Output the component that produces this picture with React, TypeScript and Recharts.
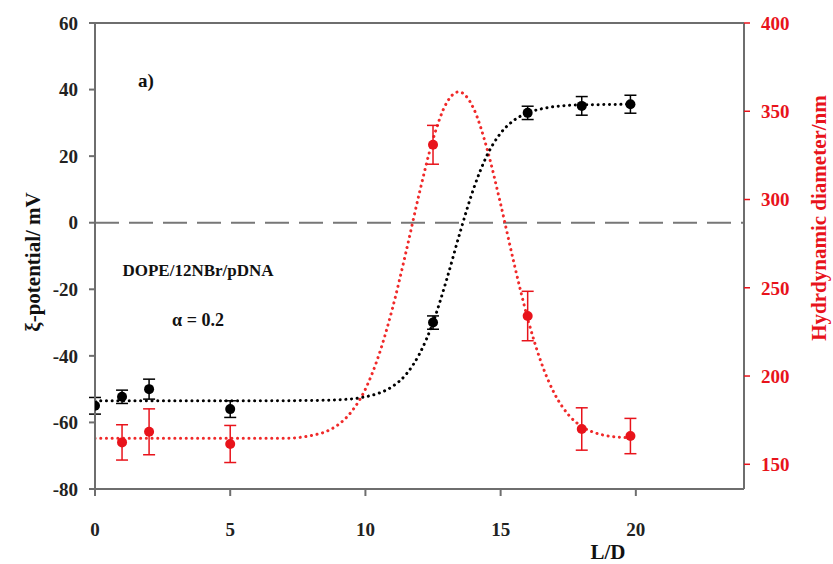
import React from 'react';
import { ComposedChart, XAxis, YAxis, Line, Scatter, ErrorBar, ReferenceLine } from 'recharts';

const FONT = '"Liberation Serif", "Times New Roman", serif';
const RED = '#e8131b';
const AXIS = '#6e6e6e';

// categories / x values (L/D)
const zetaX = [0, 1, 2, 5, 12.5, 16, 18, 19.8];
const zetaVals = [-55, -52.3, -50, -56, -30, 33, 35.1, 35.6];
const zetaErr = [2.5, 2, 3, 2.5, 2, 2, 2.8, 2.7];

const diamX = [1, 2, 5, 12.5, 16, 18, 19.8];
const diamVals = [162.4, 168.4, 161.5, 331, 234, 170, 166];
const diamErr = [10, 13, 10.5, 11, 14, 12, 10];

// fitted curves
const zetaFitX = [0, 2, 4, 6, 8, 9, 10, 10.5, 11, 11.5, 12, 12.5, 13, 13.5, 14, 14.5, 15, 15.5, 16, 16.5, 17, 18, 19, 19.8];
const zetaFitY = [-53.5, -53.5, -53.5, -53.5, -53.4, -53.2, -52.3, -51.2, -49.2, -45.6, -39.4, -30.0, -17.2, -2.9, 10.2, 20.3, 26.9, 30.8, 33.0, 34.2, 34.9, 35.4, 35.5, 35.6];

const diamFitX = [0, 2, 4, 6, 7, 8, 8.5, 9, 9.5, 10, 10.5, 11, 11.5, 12, 12.5, 13, 13.45, 14, 14.5, 15, 15.5, 16, 16.5, 17, 17.5, 18, 18.5, 19, 19.8];
const diamFitY = [164.7, 164.7, 164.7, 164.7, 164.7, 166.3, 168.3, 172.5, 180.1, 192.6, 212.0, 238.3, 270.2, 304.0, 334.1, 354.7, 361, 351.6, 328.6, 297.4, 263.6, 232.6, 207.7, 189.8, 178.2, 171.4, 167.8, 166.0, 165.0];

const xTicks = [0, 5, 10, 15, 20];
const leftTicks = [-80, -60, -40, -20, 0, 20, 40, 60];
const rightTicks = [150, 200, 250, 300, 350, 400];

const zetaPoints = zetaX.map((x, i) => ({ x, y: zetaVals[i], err: zetaErr[i] }));
const diamPoints = diamX.map((x, i) => ({ x, y: diamVals[i], err: diamErr[i] }));
const zetaFit = zetaFitX.map((x, i) => ({ x, y: zetaFitY[i] }));
const diamFit = diamFitX.map((x, i) => ({ x, y: diamFitY[i] }));

const tickStyle = { fontFamily: FONT, fontWeight: 700, fontSize: 19 };

const BlackDot = (p: any) => <circle cx={p.cx} cy={p.cy} r={5} fill="#000" />;
const RedDot = (p: any) => <circle cx={p.cx} cy={p.cy} r={5} fill={RED} />;

export default function App() {
  return (
    <div style={{ position: 'absolute', left: 0, top: 0, width: 833, height: 564, background: '#fff' }}>
      <ComposedChart width={833} height={564} margin={{ top: 23, right: 29, bottom: 30, left: 35 }}>
        <XAxis
          type="number"
          dataKey="x"
          domain={[0, 24]}
          ticks={xTicks}
          allowDataOverflow
          height={45}
          stroke={AXIS}
          strokeWidth={2}
          tickSize={7}
          tickMargin={27}
          tick={{ ...tickStyle, fill: '#222' }}
        />
        <YAxis
          yAxisId="left"
          dataKey="y"
          domain={[-80, 60]}
          ticks={leftTicks}
          allowDataOverflow
          width={60}
          stroke={AXIS}
          strokeWidth={2}
          tickSize={6}
          tickMargin={11}
          tick={{ ...tickStyle, fill: '#222' }}
        />
        <YAxis
          yAxisId="right"
          orientation="right"
          dataKey="y"
          domain={[136, 400]}
          ticks={rightTicks}
          allowDataOverflow
          width={60}
          axisLine={{ stroke: AXIS, strokeWidth: 2 }}
          tickLine={{ stroke: RED, strokeWidth: 1.5 }}
          tickSize={6}
          tickMargin={11}
          tick={{ ...tickStyle, fill: RED }}
        />
        <ReferenceLine yAxisId="left" y={60} stroke={AXIS} strokeWidth={2} />
        <ReferenceLine yAxisId="left" y={0} stroke="#777" strokeWidth={2} strokeDasharray="24 10" />
        <Line
          yAxisId="right"
          data={diamFit}
          dataKey="y"
          type="monotone"
          dot={false}
          stroke="#f02a2a"
          strokeWidth={3}
          strokeDasharray="0.1 5.6"
          strokeLinecap="round"
          isAnimationActive={false}
        />
        <Line
          yAxisId="left"
          data={zetaFit}
          dataKey="y"
          type="monotone"
          dot={false}
          stroke="#000"
          strokeWidth={3}
          strokeDasharray="0.1 5.6"
          strokeLinecap="round"
          isAnimationActive={false}
        />
        <Scatter yAxisId="left" data={zetaPoints} dataKey="y" shape={BlackDot} isAnimationActive={false}>
          <ErrorBar dataKey="err" direction="y" width={6} stroke="#000" strokeWidth={1.5} />
        </Scatter>
        <Scatter yAxisId="right" data={diamPoints} dataKey="y" shape={RedDot} isAnimationActive={false}>
          <ErrorBar dataKey="err" direction="y" width={6} stroke={RED} strokeWidth={1.5} />
        </Scatter>
      </ComposedChart>
      <svg
        width={833}
        height={564}
        style={{ position: 'absolute', left: 0, top: 0, pointerEvents: 'none' }}
      >
        <g fontFamily={FONT} fontWeight={700}>
          <text x={146} y={87} fontSize={19} textAnchor="middle" fill="#111">a)</text>
          <text x={198} y={276} fontSize={17} textAnchor="middle" fill="#111">DOPE/12NBr/pDNA</text>
          <text x={198} y={326} fontSize={18} textAnchor="middle" fill="#111">α = 0.2</text>
          <text x={608} y={559} fontSize={21} textAnchor="middle" fill="#111">L/D</text>
          <text transform="translate(40,262) rotate(-90)" fontSize={21} textAnchor="middle" fill="#111">ξ-potential/ mV</text>
          <text transform="translate(826,218) rotate(-90)" fontSize={21} textAnchor="middle" fill={RED}>Hydrdynamic diameter/nm</text>
        </g>
      </svg>
    </div>
  );
}
